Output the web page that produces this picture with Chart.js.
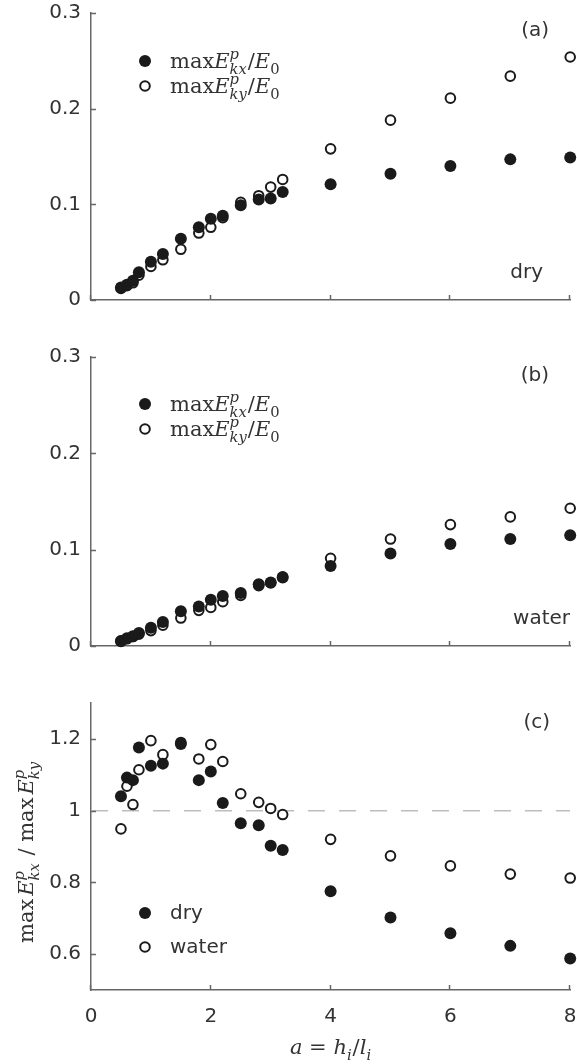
<!DOCTYPE html>
<html>
<head>
<meta charset="utf-8">
<script src="https://cdn.jsdelivr.net/npm/chart.js@4.4.1/dist/chart.umd.min.js"></script>
<style>
  body { margin: 0; background: #fff; }
  .panel { position: absolute; left: 0; width: 577px; }
</style>
</head>
<body>
<div class="panel" style="top:0px"><canvas id="chartA" width="577" height="310"></canvas></div>
<div class="panel" style="top:340px"><canvas id="chartB" width="577" height="316"></canvas></div>
<div class="panel" style="top:690px"><canvas id="chartC" width="577" height="374"></canvas></div>
<script>
// aspect ratio a = h_i / l_i
var aVals = [0.5, 0.6, 0.7, 0.8, 1.0, 1.2, 1.5, 1.8, 2.0, 2.2, 2.5, 2.8, 3.0, 3.2, 4, 5, 6, 7, 8];

// (a) dry: max E_kx^p / E0 (filled) and max E_ky^p / E0 (open)
var dryKx = [0.013, 0.016, 0.020, 0.029, 0.040, 0.048, 0.064, 0.076, 0.085, 0.088, 0.099, 0.105, 0.106, 0.113, 0.121, 0.132, 0.140, 0.147, 0.149];
var dryKy = [0.012, 0.015, 0.018, 0.026, 0.035, 0.042, 0.053, 0.070, 0.076, 0.086, 0.102, 0.109, 0.118, 0.126, 0.158, 0.188, 0.211, 0.234, 0.254];

// (b) water
var waterKx = [0.005, 0.008, 0.010, 0.0136, 0.019, 0.025, 0.036, 0.041, 0.048, 0.052, 0.055, 0.064, 0.066, 0.071, 0.083, 0.096, 0.106, 0.111, 0.115];
var waterKy = [0.0053, 0.0075, 0.0098, 0.0122, 0.016, 0.0216, 0.029, 0.037, 0.040, 0.046, 0.0525, 0.0626, 0.0656, 0.0718, 0.091, 0.111, 0.126, 0.134, 0.143];

// (c) ratio max E_kx^p / max E_ky^p
var ratioDry = [1.04, 1.092, 1.085, 1.176, 1.125, 1.131, 1.186, 1.085, 1.109, 1.021, 0.965, 0.959, 0.902, 0.89, 0.775, 0.702, 0.658, 0.623, 0.588];
var ratioWater = [0.949, 1.068, 1.017, 1.114, 1.195, 1.156, 1.19, 1.144, 1.184, 1.137, 1.047, 1.023, 1.006, 0.989, 0.92, 0.874, 0.846, 0.823, 0.812];

var xTicks = [0, 2, 4, 6, 8];
var yTicksE = [0, 0.1, 0.2, 0.3];
var yTicksRatio = [0.6, 0.8, 1, 1.2];

var SANS = "'DejaVu Sans'";
var SERIF = "'DejaVu Serif'";
var INK = '#1a1a1a';
var TXT = '#333';
var AXIS = '#666';

function pts(ys) {
    return aVals.map(function(x, i) { return {x: x, y: ys[i]}; });
}

// draws simple math like maxE^p_kx / E_0, y is the baseline
function mathText(ctx, parts, x, y, size, align) {
    var small = size * 0.7;
    var widths = parts.map(function(p) {
        if (p.sp) return p.sp;
        if (p.t !== undefined) {
            ctx.font = (p.i ? 'italic ' : '') + size + 'px ' + SERIF;
            return ctx.measureText(p.t).width;
        }
        ctx.font = 'italic ' + small + 'px ' + SERIF;
        var w1 = p.sup ? ctx.measureText(p.sup).width : 0;
        var w2 = p.sub ? ctx.measureText(p.sub).width : 0;
        return Math.max(w1, w2) + 1;
    });
    var total = widths.reduce(function(s, w) { return s + w; }, 0);
    var cx = align === 'center' ? x - total / 2 : x;
    ctx.textAlign = 'left';
    ctx.textBaseline = 'alphabetic';
    ctx.fillStyle = TXT;
    parts.forEach(function(p, i) {
        if (p.t !== undefined) {
            ctx.font = (p.i ? 'italic ' : '') + size + 'px ' + SERIF;
            ctx.fillText(p.t, cx, y);
        } else if (!p.sp) {
            if (p.sup) {
                ctx.font = 'italic ' + small + 'px ' + SERIF;
                ctx.fillText(p.sup, cx, y - size * 0.45);
            }
            if (p.sub) {
                ctx.font = (/^\d+$/.test(p.sub) ? '' : 'italic ') + small + 'px ' + SERIF;
                ctx.fillText(p.sub, cx, y + size * 0.28);
            }
        }
        cx += widths[i];
    });
}

function plainText(ctx, s, x, y, align) {
    ctx.font = '20px ' + SANS;
    ctx.fillStyle = TXT;
    ctx.textAlign = align || 'left';
    ctx.textBaseline = 'middle';
    ctx.fillText(s, x, y);
}

function marker(ctx, x, y, filled) {
    ctx.beginPath();
    if (filled) {
        ctx.arc(x, y, 6, 0, Math.PI * 2);
        ctx.fillStyle = INK;
        ctx.fill();
    } else {
        ctx.arc(x, y, 4.8, 0, Math.PI * 2);
        ctx.fillStyle = '#fff';
        ctx.fill();
        ctx.lineWidth = 2;
        ctx.strokeStyle = INK;
        ctx.stroke();
    }
}

var legKx = [{t: 'max'}, {t: 'E', i: 1}, {sup: 'p', sub: 'kx'}, {t: '/'}, {t: 'E', i: 1}, {sub: '0'}];
var legKy = [{t: 'max'}, {t: 'E', i: 1}, {sup: 'p', sub: 'ky'}, {t: '/'}, {t: 'E', i: 1}, {sub: '0'}];

// inward tick marks, like the original figure
var innerTicks = {
    id: 'innerTicks',
    afterDraw: function(chart) {
        var ctx = chart.ctx, area = chart.chartArea;
        ctx.save();
        ctx.strokeStyle = AXIS;
        ctx.lineWidth = 1.5;
        chart.scales.y.ticks.forEach(function(t) {
            var py = Math.round(chart.scales.y.getPixelForValue(t.value)) + 0.5;
            ctx.beginPath();
            ctx.moveTo(area.left, py);
            ctx.lineTo(area.left + 5, py);
            ctx.stroke();
        });
        chart.scales.x.ticks.forEach(function(t) {
            var px = Math.round(chart.scales.x.getPixelForValue(t.value)) - 0.5;
            ctx.beginPath();
            ctx.moveTo(px, area.bottom);
            ctx.lineTo(px, area.bottom - 5);
            ctx.stroke();
        });
        ctx.restore();
    }
};

function makeChart(id, datasets, yMin, yMax, yTicks, top, xHeight, showX, deco) {
    return new Chart(document.getElementById(id), {
        type: 'scatter',
        data: {datasets: datasets},
        options: {
            responsive: false,
            animation: false,
            devicePixelRatio: 1,
            layout: {padding: {top: top, right: 6, left: 0, bottom: 0}},
            plugins: {legend: {display: false}, tooltip: {enabled: false}},
            scales: {
                x: {
                    type: 'linear',
                    min: 0,
                    max: 8,
                    afterBuildTicks: function(s) { s.ticks = xTicks.map(function(v) { return {value: v}; }); },
                    afterFit: function(s) {
                        s.height = xHeight;
                        s.paddingLeft = 0;
                        s.paddingRight = 0;
                    },
                    grid: {drawOnChartArea: false, drawTicks: false},
                    border: {display: true, color: AXIS, width: 1.5},
                    ticks: {display: showX, padding: 15, color: TXT, font: {family: SANS, size: 20}}
                },
                y: {
                    type: 'linear',
                    min: yMin,
                    max: yMax,
                    afterBuildTicks: function(s) { s.ticks = yTicks.map(function(v) { return {value: v}; }); },
                    afterFit: function(s) {
                        s.width = 91;
                        s.paddingTop = 0;
                        s.paddingBottom = 0;
                    },
                    grid: {drawOnChartArea: false, drawTicks: false},
                    border: {display: true, color: AXIS, width: 1.5},
                    ticks: {
                        padding: 10,
                        color: TXT,
                        font: {family: SANS, size: 20},
                        callback: function(v) { return String(+v.toFixed(2)); }
                    }
                }
            }
        },
        plugins: [innerTicks, {id: 'deco', afterDraw: function(chart) {
            var ctx = chart.ctx;
            ctx.save();
            deco(ctx, chart.chartArea);
            ctx.restore();
        }}]
    });
}

function pair(kx, ky) {
    return [
        {data: pts(kx), pointRadius: 6, pointHoverRadius: 6, backgroundColor: INK, borderWidth: 0, clip: false},
        {data: pts(ky), pointRadius: 4.8, pointHoverRadius: 4.8, backgroundColor: '#fff', borderColor: INK, borderWidth: 2, clip: false}
    ];
}

makeChart('chartA', pair(dryKx, dryKy), 0, 0.3, yTicksE, 13, 10, false, function(ctx, a) {
    plainText(ctx, '(a)', 549, 31, 'right');
    plainText(ctx, 'dry', 543, 273, 'right');
    marker(ctx, 145, 61, true);
    marker(ctx, 145, 86, false);
    mathText(ctx, legKx, 170, 68, 21);
    mathText(ctx, legKy, 170, 93, 21);
});

makeChart('chartB', pair(waterKx, waterKy), 0, 0.3, yTicksE, 17, 10, false, function(ctx, a) {
    plainText(ctx, '(b)', 549, 36, 'right');
    plainText(ctx, 'water', 570, 279, 'right');
    marker(ctx, 145, 64, true);
    marker(ctx, 145, 89, false);
    mathText(ctx, legKx, 170, 71, 21);
    mathText(ctx, legKy, 170, 96, 21);
});

var ratioSets = pair(ratioDry, ratioWater);
ratioSets.push({
    type: 'line',
    data: [{x: 0, y: 1}, {x: 8, y: 1}],
    borderColor: '#bdbdbd',
    borderWidth: 1.5,
    borderDash: [17, 14],
    pointRadius: 0
});

makeChart('chartC', ratioSets, 0.5, 1.3, yTicksRatio, 13, 74, true, function(ctx, a) {
    plainText(ctx, '(c)', 550, 33, 'right');
    marker(ctx, 145, 223, true);
    marker(ctx, 145, 257, false);
    plainText(ctx, 'dry', 170, 224);
    plainText(ctx, 'water', 170, 258);
    mathText(ctx, [{t: 'a', i: 1}, {t: ' = '}, {t: 'h', i: 1}, {sub: 'i'}, {t: '/'}, {t: 'l', i: 1}, {sub: 'i'}], 331, 364, 21, 'center');
    ctx.save();
    ctx.translate(26, 162);
    ctx.rotate(-Math.PI / 2);
    mathText(ctx, [{t: 'max'}, {sp: 3}, {t: 'E', i: 1}, {sup: 'p', sub: 'kx'}, {t: ' / '}, {t: 'max'}, {sp: 3}, {t: 'E', i: 1}, {sup: 'p', sub: 'ky'}], 0, 7, 21, 'center');
    ctx.restore();
});
</script>
</body>
</html>
